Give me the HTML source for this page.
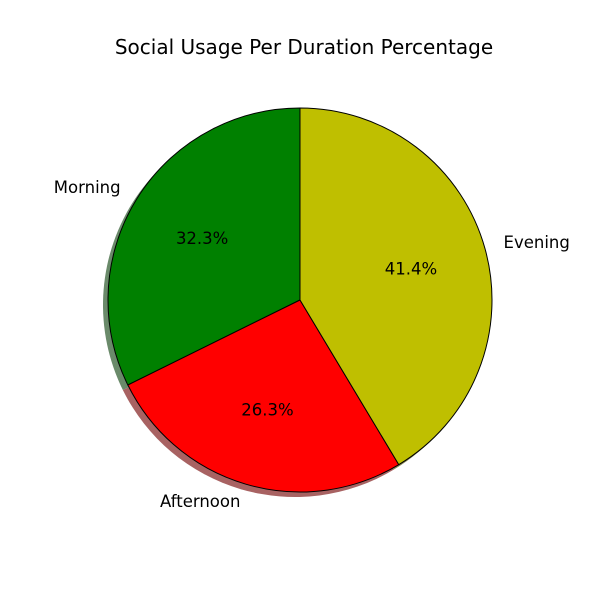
<!DOCTYPE html>
<html><head><meta charset="utf-8"><style>
body{margin:0;background:#fff;}
svg text{font-family:"DejaVu Sans","Liberation Sans",sans-serif;}
</style></head><body>
<svg id="chart" width="600" height="600" viewBox="0 0 600 600">
<rect width="600" height="600" fill="#fff"/>
<text x="304" y="54" text-anchor="middle" font-size="20">Social Usage Per Duration Percentage</text>
<g id="shadows"></g><g id="slices"></g><g id="labels"></g>
</svg>
<script>
const categories = ["Morning", "Afternoon", "Evening"];
const values = [32.3, 26.3, 41.4];
const colors = ["#008000", "#ff0000", "#bfbf00"];
const shadowColors = ["#6a8a6a", "#a86262", "#8a8a5a"];
const cx = 300, cy = 300, R = 192;
const total = values.reduce((a, b) => a + b, 0);
const ns = "http://www.w3.org/2000/svg";
function pt(deg, r) { const a = deg * Math.PI / 180; return [cx + r * Math.cos(a), cy - r * Math.sin(a)]; }
function arcPath(a0, a1, dx, dy) {
  const p0 = pt(a0, R), p1 = pt(a1, R);
  const large = (a1 - a0) > 180 ? 1 : 0;
  return `M${cx+dx},${cy+dy} L${p0[0]+dx},${p0[1]+dy} A${R},${R} 0 ${large} 0 ${p1[0]+dx},${p1[1]+dy} Z`;
}
let start = 90;
values.forEach((v, i) => {
  const sweep = v / total * 360, end = start + sweep, mid = start + sweep / 2;
  const sh = document.createElementNS(ns, "path");
  sh.setAttribute("d", arcPath(start, end, -5, 5));
  sh.setAttribute("fill", shadowColors[i]);
  
  
  document.getElementById("shadows").appendChild(sh);
  const p = document.createElementNS(ns, "path");
  p.setAttribute("d", arcPath(start, end, 0, 0));
  p.setAttribute("fill", colors[i]);
  p.setAttribute("stroke", "#000");
  p.setAttribute("stroke-width", "1");
  p.setAttribute("stroke-linejoin", "round");
  
  
  document.getElementById("slices").appendChild(p);
  const lp = pt(mid, R * 1.1);
  const c = Math.cos(mid * Math.PI / 180);
  const t = document.createElementNS(ns, "text");
  t.setAttribute("x", lp[0]); t.setAttribute("y", lp[1] + 4.5);
  t.setAttribute("font-size", "16.5");
  t.setAttribute("text-anchor", c < -0.01 ? "end" : (c > 0.01 ? "start" : "middle"));
  t.textContent = categories[i];
  
  
  document.getElementById("labels").appendChild(t);
  const pp = pt(mid, R * 0.6);
  const q = document.createElementNS(ns, "text");
  q.setAttribute("x", pp[0]); q.setAttribute("y", pp[1] + 5);
  q.setAttribute("font-size", "16.5");
  q.setAttribute("text-anchor", "middle");
  q.textContent = (v / total * 100).toFixed(1) + "%";
  
  
  document.getElementById("labels").appendChild(q);
  start = end;
});
</script>
</body></html>
